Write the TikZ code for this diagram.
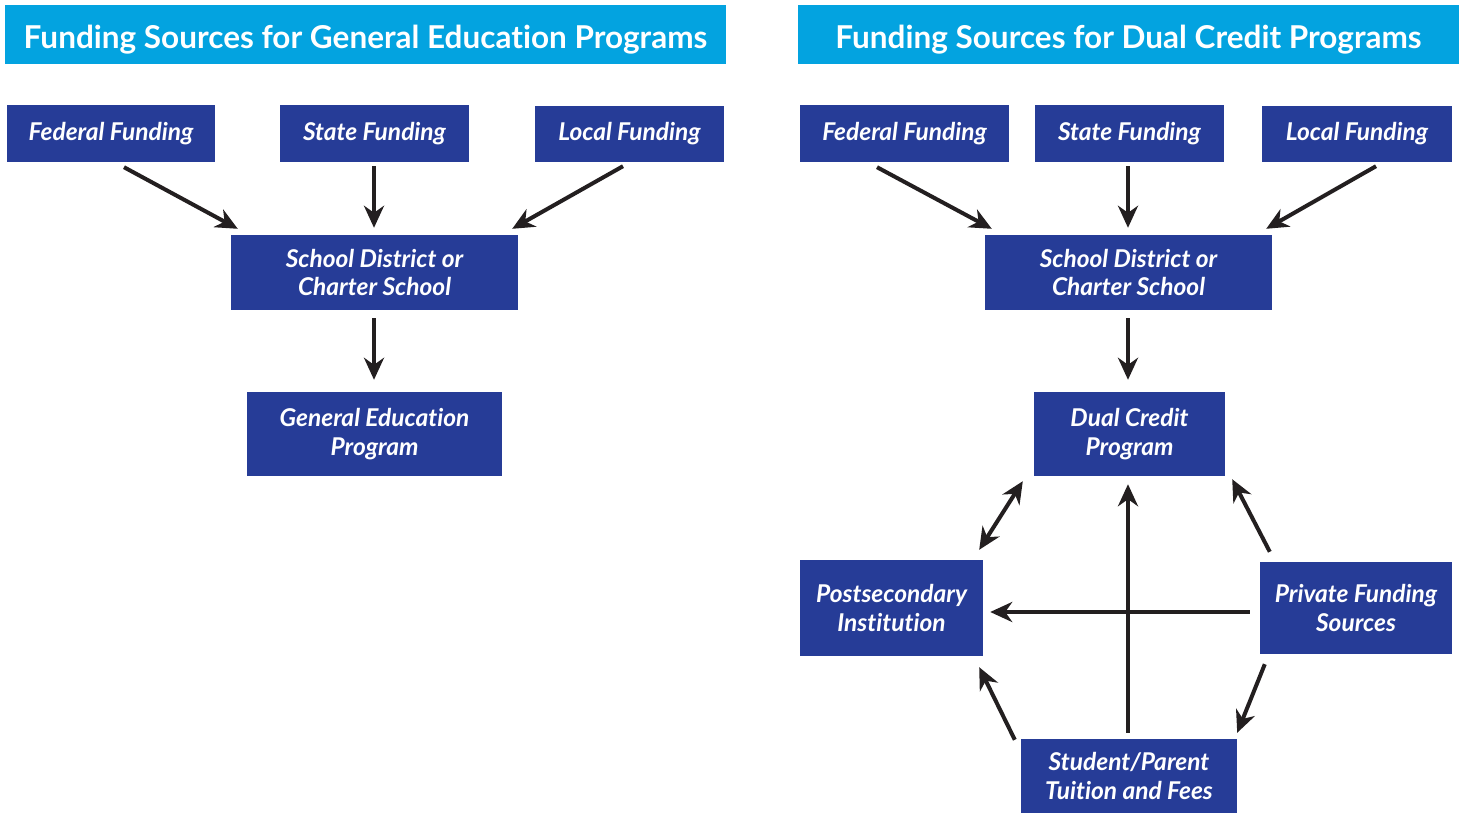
\documentclass[tikz,border=0pt]{standalone}
\usepackage{fontspec}
\setmainfont{Lato}[Ligatures={NoCommon}]
\usetikzlibrary{arrows.meta}
\definecolor{titlecyan}{HTML}{03A3E0}
\definecolor{boxblue}{HTML}{263C97}
\definecolor{arrowdark}{HTML}{231F20}
\newcommand{\boxfnt}{\fontsize{24.5}{28.5}\selectfont\bfseries\itshape}
\newcommand{\titlefnt}{\fontsize{31.5}{34}\selectfont\bfseries}
\tikzset{
  titlebar/.style={text=white, font=\titlefnt, inner sep=0pt, anchor=center, text depth=0pt},
  bluebox/.style={fill=boxblue, text=white, font=\boxfnt, align=center, inner sep=0pt, anchor=center},
  flow/.style={draw=arrowdark, line width=4pt, -{Stealth[length=22pt, width=20pt, inset=7pt]}},
  flowboth/.style={draw=arrowdark, line width=4pt, {Stealth[length=22pt, width=20pt, inset=7pt]}-{Stealth[length=22pt, width=20pt, inset=7pt]}},
}
\begin{document}
\begin{tikzpicture}[x=1pt,y=-1pt]
\useasboundingbox (0,0) rectangle (1460,814);
% titles
\fill[titlecyan] (5,5) rectangle (726,64);
\fill[titlecyan] (798,5) rectangle (1459,64);
\node[titlebar] (ltitle) at (365.5,37) {Funding Sources for General Education Programs};
\node[titlebar] (rtitle) at (1128.5,37) {Funding Sources for Dual Credit Programs};
% left
\node[bluebox, minimum width=208, minimum height=57] (lfed) at (111,133.5) {Federal Funding};
\node[bluebox, minimum width=189, minimum height=57] (lstate) at (374.5,133.5) {State Funding};
\node[bluebox, minimum width=189, minimum height=56] (llocal) at (629.5,134) {Local Funding};
\node[bluebox, minimum width=287, minimum height=75] (lsd) at (374.5,272.5) {School District or\\Charter School};
\node[bluebox, minimum width=255, minimum height=84] (lgen) at (374.5,434) {General Education\\Program};
% right
\node[bluebox, minimum width=209, minimum height=57] (rfed) at (904.5,133.5) {Federal Funding};
\node[bluebox, minimum width=189, minimum height=57] (rstate) at (1129.5,133.5) {State Funding};
\node[bluebox, minimum width=190, minimum height=56] (rlocal) at (1357,134) {Local Funding};
\node[bluebox, minimum width=287, minimum height=75] (rsd) at (1128.5,272.5) {School District or\\Charter School};
\node[bluebox, minimum width=191, minimum height=84] (rdual) at (1129.5,434) {Dual Credit\\Program};
\node[bluebox, minimum width=183, minimum height=96] (post) at (891.5,608) {Postsecondary\\Institution};
\node[bluebox, minimum width=192, minimum height=92] (priv) at (1356,608) {Private Funding\\Sources};
\node[bluebox, minimum width=216, minimum height=74] (stud) at (1129,776) {Student/Parent\\Tuition and Fees};
% left arrows
\draw[flow] ([shift={(13,5)}]lfed.south) -- ([shift={(7,-6)}]lsd.north west);
\draw[flow] ([shift={(-0.5,4)}]lstate.south) -- ([shift={(-0.5,-7)}]lsd.north);
\draw[flow] ([shift={(-6.5,4)}]llocal.south) -- ([shift={(-6,-6)}]lsd.north east);
\draw[flow] ([shift={(-0.5,8)}]lsd.south) -- ([shift={(-0.5,-12)}]lgen.north);
% right arrows
\draw[flow] ([shift={(-27.5,5)}]rfed.south) -- ([shift={(7,-6)}]rsd.north west);
\draw[flow] ([shift={(-1.5,4)}]rstate.south) -- ([shift={(-0.5,-7)}]rsd.north);
\draw[flow] ([shift={(19,4)}]rlocal.south) -- ([shift={(-6,-6)}]rsd.north east);
\draw[flow] ([shift={(-0.5,8)}]rsd.south) -- ([shift={(-1.5,-12)}]rdual.north);
\draw[flowboth] ([shift={(-4,-10)}]post.north east) -- ([shift={(-11,5)}]rdual.south west);
\draw[flow] ([shift={(-1,-6)}]stud.north) -- ([shift={(-1.5,8)}]rdual.south);
\draw[flow] ([shift={(-10,4)}]priv.west) -- ([shift={(7,4)}]post.east);
\draw[flow] ([shift={(10,-10)}]priv.north west) -- ([shift={(7,3)}]rdual.south east);
\draw[flow] ([shift={(5,10)}]priv.south west) -- ([shift={(0,-6)}]stud.north east);
\draw[flow] ([shift={(-6,1)}]stud.north west) -- ([shift={(-4,11)}]post.south east);
\end{tikzpicture}
\end{document}
